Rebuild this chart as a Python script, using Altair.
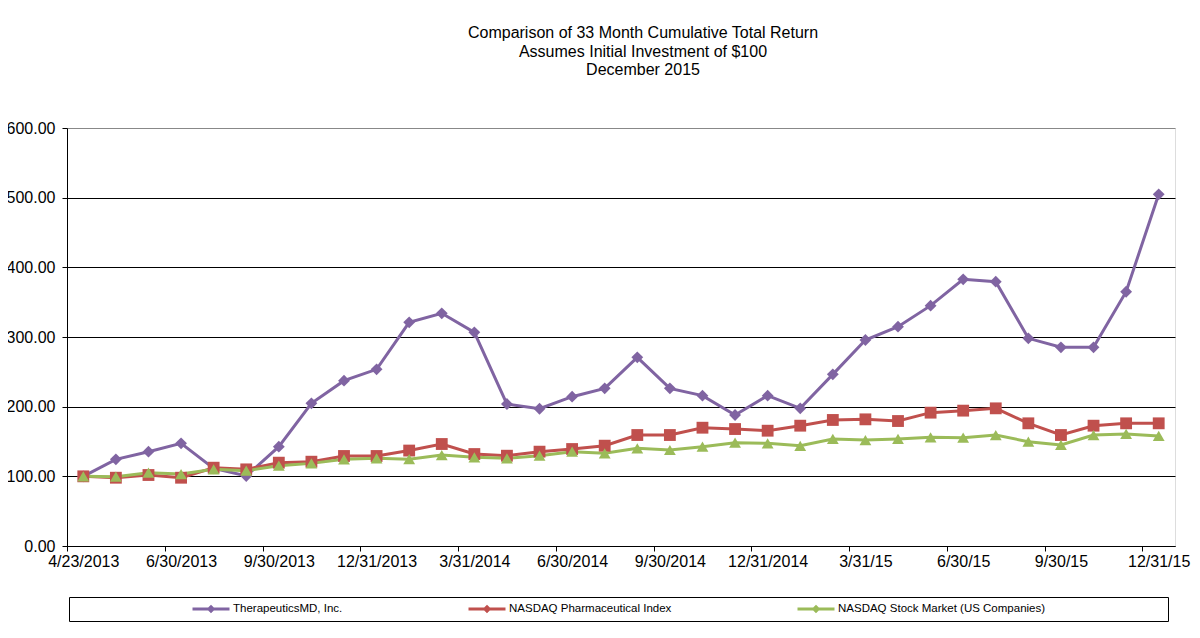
import json
import altair as alt
import pandas as pd

dates = ["4/23/2013", "4/30/2013", "5/31/2013", "6/30/2013", "7/31/2013", "8/31/2013",
         "9/30/2013", "10/31/2013", "11/30/2013", "12/31/2013", "1/31/2014", "2/28/2014",
         "3/31/2014", "4/30/2014", "5/31/2014", "6/30/2014", "7/31/2014", "8/31/2014",
         "9/30/2014", "10/31/2014", "11/30/2014", "12/31/2014", "1/31/15", "2/28/15",
         "3/31/15", "4/30/15", "5/31/15", "6/30/15", "7/31/15", "8/31/15", "9/30/15",
         "10/31/15", "11/30/15", "12/31/15"]

therapeutics = [100, 124.4, 135.4, 147.4, 111.5, 100.5, 142.6, 204.8, 237.3, 253.6,
                321.0, 334.0, 306.7, 203.8, 197.0, 214.3, 226.3, 270.8, 226.3, 215.8,
                188.0, 215.8, 197.6, 246.4, 295.7, 314.8, 345.0, 382.8, 379.4, 298.1,
                285.2, 285.2, 365.0, 504.8]
pharma = [100, 98.0, 101.9, 98.0, 112.4, 110.0, 119.6, 121.0, 129.2, 129.2,
          137.0, 146.4, 132.0, 129.6, 135.4, 139.2, 144.0, 159.3, 159.3, 169.8,
          167.9, 165.5, 172.7, 180.9, 181.8, 179.4, 191.4, 194.3, 197.6, 176.1,
          159.3, 172.7, 176.1, 176.1]
nasdaq = [100, 99.5, 105.2, 103.3, 110.0, 108.1, 115.3, 118.6, 124.4, 125.8,
          124.6, 130.6, 127.3, 125.8, 129.6, 135.4, 133.0, 140.2, 137.8, 142.6,
          148.3, 147.4, 143.8, 153.6, 152.1, 153.6, 156.0, 155.5, 159.3, 149.7,
          145.0, 159.3, 160.8, 157.9]

series_names = ["TherapeuticsMD, Inc.", "NASDAQ Pharmaceutical Index",
                "NASDAQ Stock Market (US Companies)"]
series_colors = ["#8064A2", "#C0504D", "#9BBB59"]
series_shapes = ["diamond", "square", "triangle-up"]
title_lines = ["Comparison of 33 Month Cumulative Total Return",
               "Assumes Initial Investment of $100",
               "December 2015"]

rows = []
for name, vals in zip(series_names, [therapeutics, pharma, nasdaq]):
    for i, v in enumerate(vals):
        rows.append({"idx": i, "date": dates[i], "series": name, "value": v})
df = pd.DataFrame(rows)

W, H = 1108, 418
FONT = "Liberation Sans"
BLANK = "\u2800"
half_step = W / len(dates) / 2

x_scale = alt.Scale(domain=[-0.5, len(dates) - 0.5], nice=False, zero=False)
label_expr = json.dumps(dates) + "[datum.value]"
x_enc = alt.X(
    "idx:Q", scale=x_scale,
    axis=alt.Axis(values=list(range(0, len(dates), 3)), labelExpr=label_expr,
                  ticks=True, tickSize=5, tickColor="black", tickOffset=-half_step,
                  labelOffset=half_step, grid=False, domainColor="black", domainWidth=1,
                  labelFontSize=16, labelFont=FONT, labelColor="black",
                  labelPadding=2, labelOverlap=False, labelBound=False,
                  labelFlush=False, title=None),
)
y_enc = alt.Y(
    "value:Q",
    scale=alt.Scale(domain=[0, 600], nice=False),
    axis=alt.Axis(values=[0, 100, 200, 300, 400, 500, 600], format=".2f",
                  tickSize=5, tickColor="black", domainColor="black",
                  gridColor={"condition": {"test": "datum.value >= 600", "value": "#888888"},
                             "value": "black"},
                  gridWidth=1, labelPadding=7, labelFontSize=16, labelFont=FONT,
                  labelColor="black", title=None),
)

color_scale = alt.Scale(domain=series_names, range=series_colors)

last_name = series_names[-1]
leg_expr = ("datum.value == " + json.dumps(last_name) + " ? datum.label + "
            + json.dumps(BLANK * 13) + " : datum.label")
legend = alt.Legend(
    orient="none", legendX=2, legendY=469, direction="horizontal", columns=3,
    gridAlign="each", columnPadding=124, padding=5, strokeColor="black",
    title=BLANK * 13, titleOrient="left", titleFontSize=11.5, titleFont=FONT,
    titlePadding=0, labelFontSize=11.5, labelFont=FONT, labelColor="black",
    labelLimit=800, labelOffset=2,
    symbolType="M-1,0L1,0M0,-0.12L0.12,0L0,0.12L-0.12,0Z",
    symbolSize=1369, symbolStrokeWidth=3, clipHeight=14, labelExpr=leg_expr,
)

lines = alt.Chart(df).mark_line(strokeWidth=3).encode(
    x=x_enc, y=y_enc,
    color=alt.Color("series:N", scale=color_scale, legend=legend),
    order=alt.Order("idx:Q"),
)

point_layers = []
for name, shp, col in zip(series_names, series_shapes, series_colors):
    point_layers.append(
        alt.Chart(df).transform_filter(alt.datum.series == name)
        .mark_point(filled=True, size=140, opacity=1, shape=shp, color=col)
        .encode(x=x_enc, y=y_enc)
    )

chart = alt.layer(lines, *point_layers).properties(
    width=W, height=H,
    padding={"left": 59, "top": 120, "right": 17, "bottom": 84},
    autosize=alt.AutoSizeParams(type="none"),
    title=alt.TitleParams(text=title_lines, fontSize=16, font=FONT, fontWeight="normal",
                          color="black", anchor="middle", frame="group", dx=22,
                          offset=42, lineHeight=18.5),
).configure_view(stroke="#888888", strokeWidth=1).configure(background="white")

chart.save("out.html", embed_options={"renderer": "svg", "actions": False})
